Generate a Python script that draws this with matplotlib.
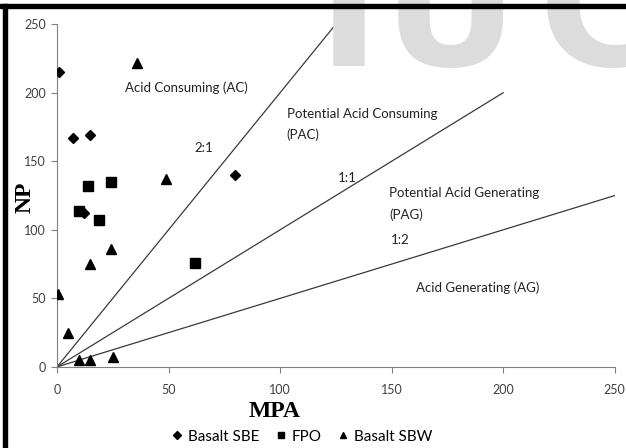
import numpy as np
import matplotlib
matplotlib.use("Agg")
import matplotlib.pyplot as plt
from matplotlib.patches import Rectangle

# data (MPA, NP)
sbe_mpa = [1, 7, 15, 12, 80]
sbe_np = [215, 167, 169, 112, 140]
fpo_mpa = [10, 14, 24, 19, 62]
fpo_np = [114, 132, 135, 107, 76]
sbw_mpa = [36, 49, 24, 15, 0.5, 5, 10, 15, 25]
sbw_np = [222, 137, 86, 75, 53, 25, 5, 5, 7]

# NP:MPA ratio lines, end points (MPA, NP)
ratio_names = ["2:1", "1:1", "1:2"]
ratio_end_mpa = [125, 200, 250]
ratio_end_np = [250, 200, 125]

x_ticks = [0, 50, 100, 150, 200, 250]
y_ticks = [0, 50, 100, 150, 200, 250]

sans = ["Lato", "Liberation Sans", "DejaVu Sans"]
serif = ["Liberation Serif", "DejaVu Serif"]

fig = plt.figure(figsize=(6.26, 4.48), dpi=100)
ax = fig.add_axes([0.091, 0.181, 0.891, 0.765])

# watermark in the background
wm_font = dict(color="#dcdcdc", fontsize=120, fontweight="bold",
               family=["DejaVu Sans"], ha="center", va="baseline", zorder=0)
for ch, xp in zip(["I", "U", "C"], [349, 450, 600]):
    fig.text(xp / 626, 1 - 66 / 448, ch, **wm_font)

for name, xe, ye in zip(ratio_names, ratio_end_mpa, ratio_end_np):
    ax.plot([0, xe], [0, ye], color="#3a3a3a", linewidth=0.9, zorder=2)

ax.plot(sbe_mpa, sbe_np, linestyle="none", marker="D", markersize=5.5,
        color="black", label="Basalt SBE", zorder=3)
ax.plot(fpo_mpa, fpo_np, linestyle="none", marker="s", markersize=6.5,
        color="black", label="FPO", zorder=3)
ax.plot(sbw_mpa, sbw_np, linestyle="none", marker="^", markersize=7,
        color="black", label="Basalt SBW", zorder=3)

txt = dict(fontsize=9.5, family=sans, color="#222222")
ax.text(58, 204, "Acid Consuming (AC)", ha="center", va="center", **txt)
ax.text(66, 160, "2:1", ha="center", va="center", **txt)
ax.text(103, 177, "Potential Acid Consuming\n(PAC)", ha="left", va="center",
        linespacing=1.85, **txt)
ax.text(130, 138, "1:1", ha="center", va="center", **txt)
ax.text(149, 119, "Potential Acid Generating\n(PAG)", ha="left", va="center",
        linespacing=1.85, **txt)
ax.text(154, 92.5, "1:2", ha="center", va="center", **txt)
ax.text(188.5, 57.5, "Acid Generating (AG)", ha="center", va="center", **txt)

ax.set_xlim(0, 250)
ax.set_ylim(0, 250)
ax.set_xticks(x_ticks)
ax.set_yticks(y_ticks)
for lab in ax.get_xticklabels() + ax.get_yticklabels():
    lab.set_family(sans)
    lab.set_fontsize(9)
    lab.set_color("#404040")
ax.tick_params(direction="out", length=4, width=0.8, color="#808080")
ax.tick_params(axis="x", pad=8)
ax.tick_params(axis="y", pad=4)
ax.spines["top"].set_visible(False)
ax.spines["right"].set_visible(False)
ax.spines["left"].set_color("#808080")
ax.spines["bottom"].set_color("#808080")
ax.set_xlabel("MPA", family=serif, fontweight="bold", fontsize=17)
ax.set_ylabel("NP", family=serif, fontweight="bold", fontsize=17)
ax.xaxis.set_label_coords(0.39, -0.1)
ax.yaxis.set_label_coords(-0.057, 0.496)
ax.yaxis.label.set_va("center")

fig.legend(loc="center", bbox_to_anchor=(0.483, 0.025), ncol=3,
           frameon=False, markerscale=0.7, handlelength=0.6, handletextpad=0.4,
           columnspacing=1.1, prop={"family": sans, "size": 11})

# black frame strips at the top and left edges of the picture
fig.add_artist(Rectangle((0, 1 - 8 / 448), 1, 4 / 448, transform=fig.transFigure,
                         color="black", zorder=5))
fig.add_artist(Rectangle((3 / 626, 0), 4 / 626, 1 - 4 / 448, transform=fig.transFigure,
                         color="black", zorder=5))

fig.savefig("out.png", dpi=100)
